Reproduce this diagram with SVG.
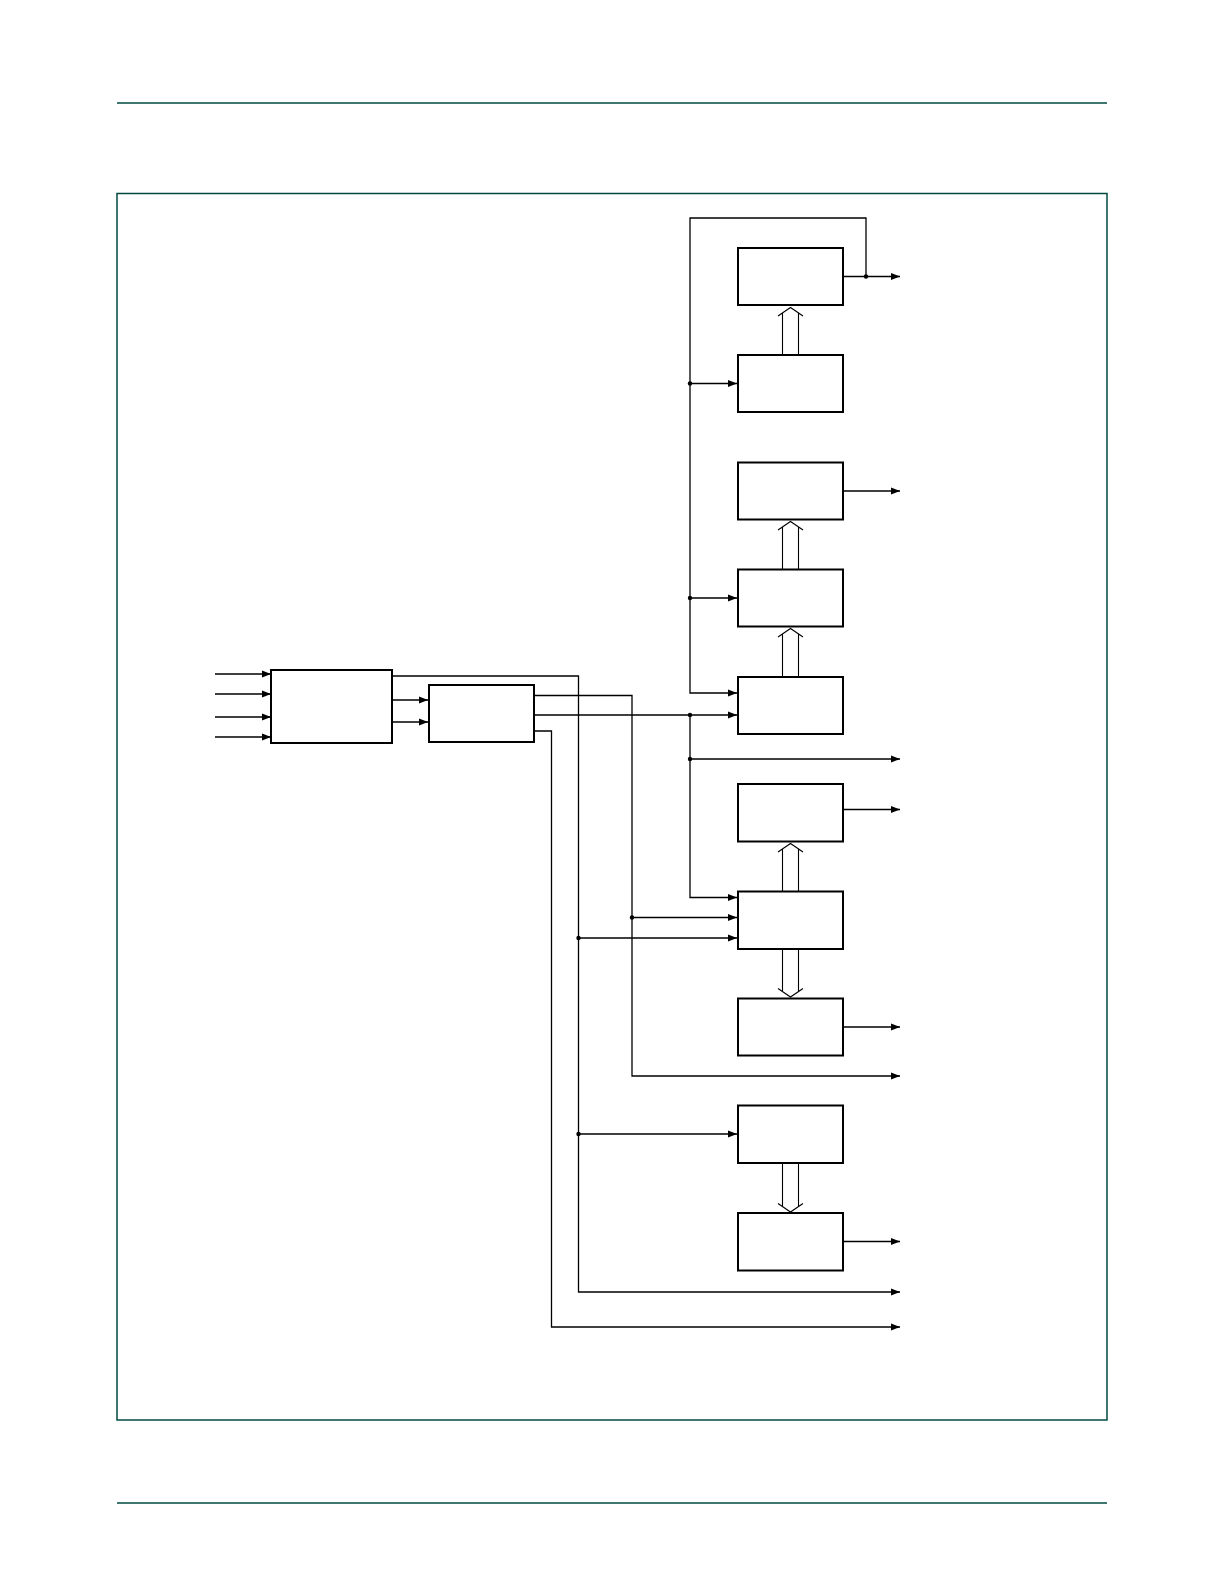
<svg xmlns="http://www.w3.org/2000/svg" width="1224" height="1584" viewBox="0 0 1224 1584">
<style>
.frame{fill:none;stroke:#004a40;stroke-width:1.5}
.rule{stroke:#004a40;stroke-width:1.5}
.box{fill:#fff;stroke:#000;stroke-width:2}
.w{fill:none;stroke:#000;stroke-width:1.3}
.bus{fill:none;stroke:#000;stroke-width:1.1}
.dot{fill:#000}
</style>
<defs>
<marker id="ah" markerUnits="userSpaceOnUse" markerWidth="10" markerHeight="8" refX="9" refY="4" orient="auto">
<path d="M0,0.5 L9,4 L0,7.5 z" fill="#000"/>
</marker>
</defs>
<rect width="1224" height="1584" fill="#fff"/>
<line class="rule" x1="117" y1="103" x2="1107" y2="103"/>
<line class="rule" x1="117" y1="1503" x2="1107" y2="1503"/>
<rect class="frame" x="117" y="193.5" width="990" height="1226.5"/>

<g id="connectors">
<!-- inputs to A -->
<line class="w" x1="215" y1="674" x2="271" y2="674" marker-end="url(#ah)"/>
<line class="w" x1="215" y1="694" x2="271" y2="694" marker-end="url(#ah)"/>
<line class="w" x1="215" y1="717" x2="271" y2="717" marker-end="url(#ah)"/>
<line class="w" x1="215" y1="737" x2="271" y2="737" marker-end="url(#ah)"/>
<!-- A to B -->
<line class="w" x1="392" y1="700" x2="428" y2="700" marker-end="url(#ah)"/>
<line class="w" x1="392" y1="722" x2="428" y2="722" marker-end="url(#ah)"/>
<!-- feedback loop from box1 output -->
<path class="w" d="M866,276.5 V218 H690 V693 H737" marker-end="url(#ah)"/>
<line class="w" x1="843" y1="276.5" x2="900" y2="276.5" marker-end="url(#ah)"/>
<line class="w" x1="690" y1="383.5" x2="737" y2="383.5" marker-end="url(#ah)"/>
<line class="w" x1="690" y1="598" x2="737" y2="598" marker-end="url(#ah)"/>
<!-- box3 output -->
<line class="w" x1="843" y1="491" x2="900" y2="491" marker-end="url(#ah)"/>
<!-- B middle output -->
<line class="w" x1="534" y1="715" x2="737" y2="715" marker-end="url(#ah)"/>
<path class="w" d="M690,715 V897.5 H737" marker-end="url(#ah)"/>
<line class="w" x1="690" y1="759" x2="900" y2="759" marker-end="url(#ah)"/>
<!-- box6 output -->
<line class="w" x1="843" y1="809.5" x2="900" y2="809.5" marker-end="url(#ah)"/>
<!-- B top output -->
<path class="w" d="M534,695.5 H632 V1076 H900" marker-end="url(#ah)"/>
<line class="w" x1="632" y1="917.5" x2="737" y2="917.5" marker-end="url(#ah)"/>
<!-- A top output -->
<path class="w" d="M392,676 H578.5 V1292 H900" marker-end="url(#ah)"/>
<line class="w" x1="578.5" y1="938" x2="737" y2="938" marker-end="url(#ah)"/>
<line class="w" x1="578.5" y1="1134" x2="737" y2="1134" marker-end="url(#ah)"/>
<!-- B bottom output -->
<path class="w" d="M534,731 H551.5 V1327 H900" marker-end="url(#ah)"/>
<!-- box8, box10 outputs -->
<line class="w" x1="843" y1="1027" x2="900" y2="1027" marker-end="url(#ah)"/>
<line class="w" x1="843" y1="1241.5" x2="900" y2="1241.5" marker-end="url(#ah)"/>
<!-- junction dots -->
<circle class="dot" cx="866" cy="276.5" r="2.2"/>
<circle class="dot" cx="690" cy="383.5" r="2.2"/>
<circle class="dot" cx="690" cy="598" r="2.2"/>
<circle class="dot" cx="690" cy="715" r="2.2"/>
<circle class="dot" cx="690" cy="759" r="2.2"/>
<circle class="dot" cx="632" cy="917.5" r="2.2"/>
<circle class="dot" cx="578.5" cy="938" r="2.2"/>
<circle class="dot" cx="578.5" cy="1134" r="2.2"/>
<!-- hollow bus arrows (up) -->
<path class="bus" d="M782.5,355 V313 M798.5,355 V313 M778,316 L790.5,307.5 L803,316"/>
<path class="bus" d="M782.5,569.5 V527 M798.5,569.5 V527 M778,530 L790.5,521.5 L803,530"/>
<path class="bus" d="M782.5,677 V634 M798.5,677 V634 M778,637 L790.5,628.5 L803,637"/>
<path class="bus" d="M782.5,891.5 V849 M798.5,891.5 V849 M778,852 L790.5,843.5 L803,852"/>
<!-- hollow bus arrows (down) -->
<path class="bus" d="M782.5,949 V991 M798.5,949 V991 M778,988.5 L790.5,997 L803,988.5"/>
<path class="bus" d="M782.5,1163 V1206 M798.5,1163 V1206 M778,1203.5 L790.5,1212 L803,1203.5"/>
</g>

<g id="nodeA"><rect class="box" x="271" y="670" width="121" height="73"/></g>
<g id="nodeB"><rect class="box" x="429" y="685" width="105" height="57"/></g>
<g id="box1"><rect class="box" x="738" y="248" width="105" height="57"/></g>
<g id="box2"><rect class="box" x="738" y="355" width="105" height="57"/></g>
<g id="box3"><rect class="box" x="738" y="462.5" width="105" height="57"/></g>
<g id="box4"><rect class="box" x="738" y="569.5" width="105" height="57"/></g>
<g id="box5"><rect class="box" x="738" y="677" width="105" height="57"/></g>
<g id="box6"><rect class="box" x="738" y="784" width="105" height="57.5"/></g>
<g id="box7"><rect class="box" x="738" y="891.5" width="105" height="57.5"/></g>
<g id="box8"><rect class="box" x="738" y="998.5" width="105" height="57"/></g>
<g id="box9"><rect class="box" x="738" y="1105.5" width="105" height="57.5"/></g>
<g id="box10"><rect class="box" x="738" y="1213" width="105" height="57.5"/></g>
</svg>
